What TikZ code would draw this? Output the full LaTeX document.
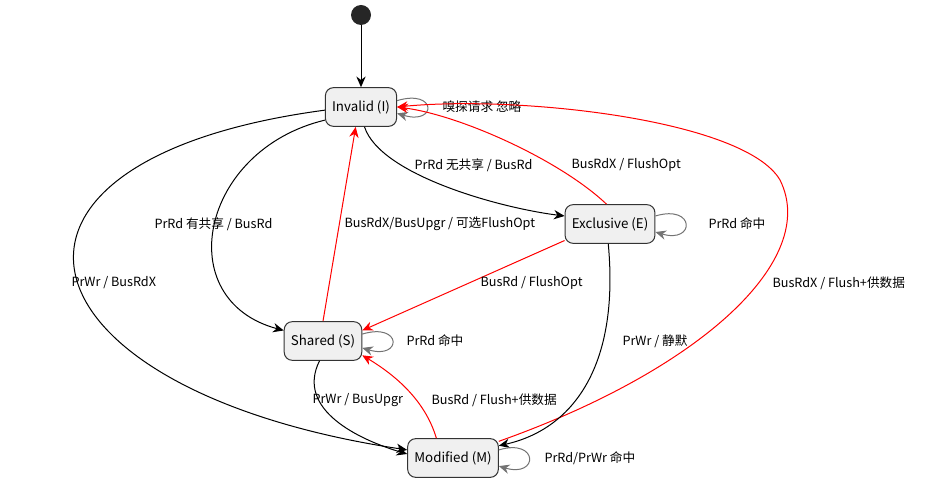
\documentclass[tikz,border=0pt]{standalone}
\usepackage{fontspec}
\setmainfont{Noto Sans CJK SC}
\usetikzlibrary{arrows.meta}
\tikzset{every picture/.style={line width=0.75pt}}
\tikzset{
  state/.style={draw=black!80,fill=black!6,rounded corners=6pt,minimum height=29pt,inner sep=5pt,font=\fontsize{10}{12}\selectfont},
  lbl/.style={font=\fontsize{9.5}{11}\selectfont,anchor=west,inner sep=0.75pt},
  tr/.style={-{Stealth[length=8pt,width=7pt]},black},
  rtr/.style={-{Stealth[length=8pt,width=7pt]},red},
  self/.style={-{Stealth[length=8pt,width=7pt]},black!55}
}
\begin{document}
\begin{tikzpicture}[x=0.75pt,y=0.75pt,yscale=-1,xscale=1]
\useasboundingbox (0,0) rectangle (932,491);

% states
\node [circle,fill=black!85,minimum size=15pt,inner sep=0pt] (start) at (361,15) {};
\node [state] (inv) at (361,107) {Invalid (I)};
\node [state] (exc) at (610,224) {Exclusive (E)};
\node [state] (shr) at (323,341) {Shared (S)};
\node [state] (mod) at (453,458) {Modified (M)};

% transitions
\draw [tr] (start) -- (inv);
\draw [self] (inv.10) .. controls +(40,-12) and +(40,12) .. (inv.-10);
\node [lbl] at (441,107) {嗅探请求 忽略};

\draw [tr] (inv.-80) .. controls (380,175) and (500,208) .. (exc.170);
\node [lbl] at (413,165) {PrRd 无共享 / BusRd};
\draw [rtr] (exc.100) .. controls (560,160) and (460,115) .. (inv.east);
\node [lbl] at (570,165) {BusRdX / FlushOpt};

\draw [tr] (inv.-160) .. controls (200,150) and (170,300) .. (shr.165);
\node [lbl] at (153,224) {PrRd 有共享 / BusRd};
\draw [rtr] (shr.north) -- (inv.-105);
\node [lbl] at (343,224) {BusRdX/BusUpgr / 可选FlushOpt};

\draw [tr] (inv.-175) .. controls (-50,160) and (10,390) .. (mod.170);
\node [lbl] at (70,283) {PrWr / BusRdX};
\draw [rtr] (mod.20) .. controls (700,370) and (820,260) .. (780,180) .. controls (745,120) and (520,95) .. (inv.east);
\node [lbl] at (771,283) {BusRdX / Flush+供数据};

\draw [self] (exc.10) .. controls +(40,-12) and +(40,12) .. (exc.-10);
\node [lbl] at (707,224) {PrRd 命中};
\draw [rtr] (exc.-160) -- (shr.15);
\node [lbl] at (479,283) {BusRd / FlushOpt};
\draw [tr] (exc.-95) .. controls (620,370) and (570,430) .. (mod.15);
\node [lbl] at (621,341) {PrWr / 静默};

\draw [self] (shr.10) .. controls +(40,-12) and +(40,12) .. (shr.-10);
\node [lbl] at (405,341) {PrRd 命中};
\draw [tr] (shr.-100) .. controls (295,410) and (360,440) .. (mod.175);
\node [lbl] at (311,400) {PrWr / BusUpgr};
\draw [rtr] (mod.130) .. controls (425,400) and (395,375) .. (shr.-20);
\node [lbl] at (430,400) {BusRd / Flush+供数据};

\draw [self] (mod.10) .. controls +(40,-12) and +(40,12) .. (mod.-10);
\node [lbl] at (543,458) {PrRd/PrWr 命中};
\end{tikzpicture}
\end{document}
